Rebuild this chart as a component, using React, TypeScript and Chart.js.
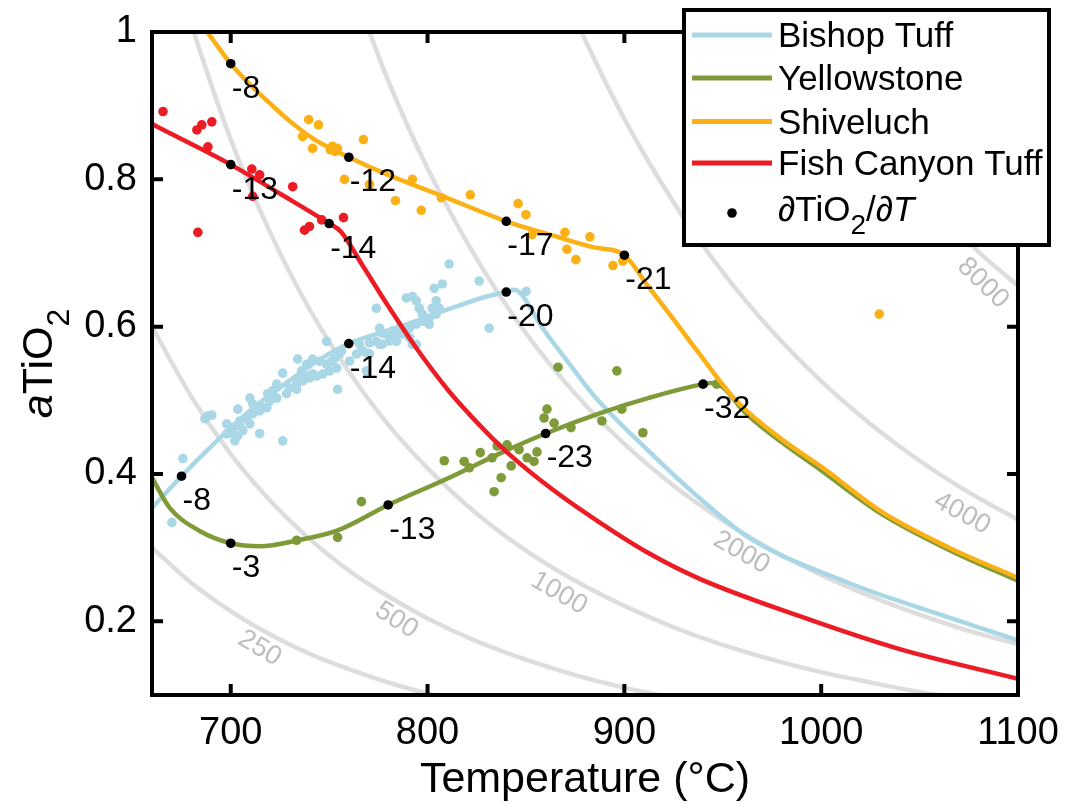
import React, { useEffect, useRef } from "react";
import { Chart, registerables } from "chart.js";

Chart.register(...registerables);

// ---------- axes ----------
const X_TICKS = [700, 800, 900, 1000, 1100];
const Y_TICKS = [0.2, 0.4, 0.6, 0.8, 1];

const SERIES_NAMES = ["Bishop Tuff", "Yellowstone", "Shiveluch", "Fish Canyon Tuff"];

// ---------- model curves ----------
const BISHOP_T = [660, 675, 688, 700, 713, 726, 745, 760, 786, 811, 830, 840, 844, 848, 853, 858, 870, 885, 912, 937, 963, 1014, 1064, 1100];
const BISHOP_A = [0.354, 0.397, 0.432, 0.463, 0.493, 0.519, 0.555, 0.577, 0.6, 0.624, 0.641, 0.647, 0.65, 0.643, 0.622, 0.6, 0.557, 0.505, 0.432, 0.37, 0.314, 0.252, 0.206, 0.174];

const YELLOW_T = [660, 669, 684, 700, 715, 734, 754, 780, 811, 836, 860, 887, 912, 940, 946, 952, 960, 980, 1000, 1030, 1065, 1100];
const YELLOW_A = [0.395, 0.354, 0.323, 0.306, 0.302, 0.31, 0.323, 0.358, 0.395, 0.427, 0.455, 0.482, 0.503, 0.522, 0.524, 0.513, 0.487, 0.443, 0.405, 0.347, 0.297, 0.255];

const SHIV_T = [684, 688, 700, 710, 720, 730, 742, 760, 780, 806, 840, 867, 884, 900, 912, 925, 937, 957, 980, 1000, 1030, 1065, 1100];
const SHIV_A = [1.014, 1.0, 0.957, 0.928, 0.903, 0.879, 0.855, 0.83, 0.806, 0.779, 0.743, 0.721, 0.708, 0.697, 0.655, 0.61, 0.567, 0.499, 0.447, 0.41, 0.35, 0.3, 0.259];

const FISH_T = [660, 680, 700, 726, 750, 756, 767, 780, 794, 811, 828, 841, 862, 887, 912, 938, 988, 1039, 1100];
const FISH_A = [0.875, 0.848, 0.82, 0.779, 0.74, 0.729, 0.683, 0.628, 0.572, 0.512, 0.462, 0.428, 0.382, 0.335, 0.293, 0.258, 0.208, 0.163, 0.122];

// ---------- measured points ----------
const BISHOP_PT_T = [670.1, 675.7, 686.9, 688.4, 690.4, 698.0, 700.5, 703.6, 702.1, 704.6, 706.1, 703.6, 709.7, 711.2, 713.7, 709.7, 714.7, 716.3, 718.8, 721.3, 723.4, 726.4, 728.4, 733.5, 734.0, 736.0, 738.6, 741.6, 726.4, 734.0, 738.6, 741.6, 745.1, 748.7, 751.2, 752.8, 755.3, 756.3, 754.3, 748.7, 765.4, 766.9, 770.5, 769.5, 774.0, 775.6, 777.1, 780.6, 784.2, 785.7, 787.2, 789.2, 792.3, 789.2, 792.3, 794.3, 795.8, 797.4, 799.4, 800.9, 802.4, 804.4, 803.4, 807.5, 811.0, 774.0, 775.6, 782.1, 790.8, 794.3, 826.2, 831.3, 850.1, 770.5, 768.9, 698.0, 701.1, 704.6, 708.2, 711.2, 714.7, 718.3, 719.8, 723.4, 729.9, 733.5, 736.5, 740.1, 743.6, 746.7, 750.2, 753.8, 760.4, 763.9, 766.9, 777.1, 780.6, 784.2, 787.2, 790.8, 794.3, 797.4, 800.9, 804.4, 806.0];
const BISHOP_PT_A = [0.334, 0.421, 0.475, 0.479, 0.48, 0.468, 0.456, 0.452, 0.445, 0.465, 0.459, 0.488, 0.503, 0.495, 0.488, 0.468, 0.455, 0.49, 0.509, 0.513, 0.522, 0.537, 0.509, 0.515, 0.53, 0.54, 0.533, 0.536, 0.445, 0.556, 0.549, 0.556, 0.553, 0.549, 0.553, 0.557, 0.563, 0.567, 0.515, 0.58, 0.576, 0.567, 0.578, 0.564, 0.58, 0.576, 0.591, 0.585, 0.58, 0.598, 0.59, 0.594, 0.576, 0.639, 0.641, 0.635, 0.625, 0.617, 0.607, 0.603, 0.625, 0.635, 0.652, 0.658, 0.685, 0.625, 0.598, 0.594, 0.585, 0.576, 0.662, 0.598, 0.648, 0.563, 0.54, 0.4545, 0.4627, 0.472, 0.476, 0.4816, 0.4857, 0.4897, 0.499, 0.503, 0.5168, 0.5222, 0.5262, 0.5303, 0.533, 0.5357, 0.5398, 0.5439, 0.5533, 0.5628, 0.5669, 0.5763, 0.5804, 0.5899, 0.5939, 0.598, 0.6034, 0.6074, 0.6115, 0.6169, 0.625];

const YELLOW_PT_T = [733.5, 754.3, 766.4, 808.5, 818.6, 821.2, 826.8, 832.8, 835.4, 840.4, 846.5, 842.5, 837.4, 833.8, 850.6, 854.1, 855.6, 860.7, 859.2, 864.3, 866.3, 872.9, 896.2, 888.6, 898.7, 909.4, 946.9];
const YELLOW_PT_A = [0.31, 0.314, 0.3625, 0.418, 0.417, 0.4085, 0.429, 0.422, 0.438, 0.4396, 0.433, 0.411, 0.395, 0.376, 0.422, 0.417, 0.43, 0.488, 0.476, 0.469, 0.545, 0.463, 0.54, 0.472, 0.488, 0.456, 0.522];

const SHIV_PT_T = [739.6, 744.6, 736.5, 741.6, 751.7, 754.2, 753.0, 750.6, 767.4, 757.8, 770.5, 792.3, 783.7, 796.8, 807.0, 821.7, 846.0, 850.0, 853.1, 869.8, 870.8, 875.4, 882.5, 894.2, 899.2, 1029.5];
const SHIV_PT_A = [0.881, 0.874, 0.858, 0.842, 0.845, 0.842, 0.838, 0.84, 0.854, 0.8, 0.793, 0.8, 0.771, 0.758, 0.775, 0.779, 0.767, 0.752, 0.725, 0.728, 0.705, 0.691, 0.722, 0.683, 0.689, 0.617];

const FISH_PT_T = [665.6, 682.8, 685.3, 690.4, 688.4, 683.3, 710.7, 714.7, 711.2, 731.5, 737.5, 740.0, 746.2, 757.3];
const FISH_PT_A = [0.892, 0.867, 0.874, 0.878, 0.844, 0.728, 0.814, 0.806, 0.777, 0.79, 0.731, 0.736, 0.745, 0.748];

// ---------- derivative markers ----------
const DERIV_T = [700, 760, 840, 900, 700, 750, 675, 760, 840, 700, 780, 860, 940];
const DERIV_A = [0.957, 0.83, 0.743, 0.697, 0.82, 0.74, 0.397, 0.577, 0.647, 0.306, 0.358, 0.455, 0.522];
const DERIV_LABELS = ["-8", "-12", "-17", "-21", "-13", "-14", "-8", "-14", "-20", "-3", "-13", "-23", "-32"];

// ---------- Ti contours ----------
const CONTOUR_LEVELS = ["250", "500", "1000", "2000", "4000", "8000"];
const C250_T = [660, 680, 700, 720, 740, 760, 780, 800, 825];
const C250_A = [0.3, 0.252, 0.214, 0.182, 0.156, 0.135, 0.117, 0.102, 0.086];
const C500_T = [660, 680, 700, 720, 740, 760, 780, 800, 825, 850, 875, 900, 925];
const C500_A = [0.6, 0.505, 0.427, 0.364, 0.312, 0.269, 0.234, 0.204, 0.173, 0.148, 0.127, 0.11, 0.096];
const C1000_T = [675, 680, 700, 720, 740, 760, 780, 800, 825, 850, 875, 900, 925, 950, 975, 1000, 1025, 1050, 1075];
const C1000_A = [1.053, 1.01, 0.854, 0.728, 0.624, 0.539, 0.467, 0.408, 0.346, 0.296, 0.255, 0.221, 0.192, 0.168, 0.148, 0.131, 0.117, 0.104, 0.094];
const C2000_T = [765, 780, 800, 825, 850, 875, 900, 925, 950, 975, 1000, 1025, 1050, 1075, 1100];
const C2000_A = [1.039, 0.934, 0.815, 0.692, 0.591, 0.509, 0.441, 0.384, 0.337, 0.297, 0.263, 0.234, 0.209, 0.187, 0.169];
const C4000_T = [870, 875, 900, 925, 950, 975, 1000, 1025, 1050, 1075, 1100];
const C4000_A = [1.048, 1.018, 0.882, 0.769, 0.674, 0.594, 0.526, 0.468, 0.418, 0.375, 0.338];
const C8000_T = [1000, 1010, 1025, 1050, 1075, 1100];
const C8000_A = [1.04, 0.987, 0.91, 0.8, 0.715, 0.655];
const CONTOUR_LABEL_T = [714.7, 784.2, 866.8, 959.5, 1071.6, 1082.2];
const CONTOUR_LABEL_A = [0.1636, 0.2015, 0.238, 0.2935, 0.3463, 0.6589];

// ---------- styles ----------
const FONT = "'Liberation Sans', Arial, Helvetica, sans-serif";
const C_BISHOP = "#a9d7e6";
const C_YELLOW = "#7f9a38";
const C_SHIV = "#fbb116";
const C_FISH = "#ec1c24";
const C_GRAY = "#dddddd";
const CONTOUR_LABEL_ANGLE = [31, 33, 30, 30, 29, 44];

const mk = (xs: number[], ys: number[]) => xs.map((v, i) => ({ x: v, y: ys[i] }));

const lineDs = (data: any[], color: string, order: number, width = 4.5) => ({
  data,
  showLine: true,
  borderColor: color,
  backgroundColor: color,
  borderWidth: width,
  pointRadius: 0,
  pointHoverRadius: 0,
  cubicInterpolationMode: "monotone",
  fill: false,
  clip: 0,
  order,
});

const dotDs = (data: any[], color: string, order: number, r = 4.8) => ({
  data,
  showLine: false,
  pointRadius: r,
  pointHoverRadius: r,
  pointBackgroundColor: color,
  pointBorderWidth: 0,
  borderColor: color,
  backgroundColor: color,
  order,
});

type Part = [string, "n" | "i" | "s"];

function partFont(p: Part, size: number, subSize: number) {
  if (p[1] === "i") return `italic ${size}px ${FONT}`;
  if (p[1] === "s") return `${subSize}px ${FONT}`;
  return `${size}px ${FONT}`;
}

function richWidth(ctx: CanvasRenderingContext2D, parts: Part[], size: number, subSize: number) {
  let w = 0;
  for (const p of parts) {
    ctx.font = partFont(p, size, subSize);
    w += ctx.measureText(p[0]).width;
  }
  return w;
}

function drawRich(ctx: CanvasRenderingContext2D, parts: Part[], x: number, y: number, size: number, subSize: number, subShift: number) {
  let cx = x;
  ctx.textAlign = "left";
  ctx.textBaseline = "alphabetic";
  for (const p of parts) {
    ctx.font = partFont(p, size, subSize);
    ctx.fillText(p[0], cx, p[1] === "s" ? y + subShift : y);
    cx += ctx.measureText(p[0]).width;
  }
}

const overlay = {
  id: "overlay",
  beforeDatasetsDraw(chart: any) {
    const { ctx, scales } = chart;
    const x = scales.x;
    const y = scales.y;
    ctx.save();
    ctx.fillStyle = "#bdbdbd";
    ctx.font = `27px ${FONT}`;
    ctx.textAlign = "center";
    ctx.textBaseline = "middle";
    CONTOUR_LEVELS.forEach((lab, i) => {
      const px = x.getPixelForValue(CONTOUR_LABEL_T[i]);
      const py = y.getPixelForValue(CONTOUR_LABEL_A[i]);
      ctx.save();
      ctx.translate(px, py);
      ctx.rotate((CONTOUR_LABEL_ANGLE[i] * Math.PI) / 180);
      ctx.fillText(lab, 0, 0);
      ctx.restore();
    });
    ctx.restore();
  },
  afterDatasetsDraw(chart: any) {
    const { ctx, scales, chartArea } = chart;
    const x = scales.x;
    const y = scales.y;
    ctx.save();
    ctx.fillStyle = "#000";
    ctx.font = `32px ${FONT}`;
    ctx.textAlign = "left";
    ctx.textBaseline = "alphabetic";
    DERIV_LABELS.forEach((lab, i) => {
      const px = x.getPixelForValue(DERIV_T[i]);
      const py = y.getPixelForValue(DERIV_A[i]);
      ctx.fillText(lab, px + 1, py + 34);
    });
    const { left, right, top, bottom } = chartArea;
    ctx.strokeStyle = "#000";
    ctx.lineWidth = 4;
    ctx.lineCap = "butt";
    ctx.beginPath();
    X_TICKS.forEach((v) => {
      const px = x.getPixelForValue(v);
      if (px < right - 3) {
        ctx.moveTo(px, bottom);
        ctx.lineTo(px, bottom - 11);
        ctx.moveTo(px, top);
        ctx.lineTo(px, top + 11);
      }
    });
    Y_TICKS.forEach((v) => {
      const py = y.getPixelForValue(v);
      if (py > top + 3) {
        ctx.moveTo(left, py);
        ctx.lineTo(left + 11, py);
        ctx.moveTo(right, py);
        ctx.lineTo(right - 11, py);
      }
    });
    ctx.stroke();
    ctx.lineJoin = "miter";
    ctx.strokeRect(left, top, right - left, bottom - top);
    ctx.restore();
  },
  afterDraw(chart: any) {
    const { ctx, chartArea } = chart;
    ctx.save();
    ctx.fillStyle = "#000";
    const yParts: Part[] = [["a", "i"], ["TiO", "n"], ["2", "s"]];
    const w = richWidth(ctx, yParts, 43, 32);
    ctx.translate(52, (chartArea.top + chartArea.bottom) / 2);
    ctx.rotate(-Math.PI / 2);
    drawRich(ctx, yParts, -w / 2, 0, 43, 32, 17);
    ctx.restore();

    ctx.save();
    const L = 684, T = 10, R = 1049, B = 245;
    ctx.fillStyle = "#fff";
    ctx.fillRect(L, T, R - L, B - T);
    ctx.strokeStyle = "#000";
    ctx.lineWidth = 4;
    ctx.strokeRect(L, T, R - L, B - T);
    const rows = [35, 78, 121.5, 163];
    const cols = [C_BISHOP, C_YELLOW, C_SHIV, C_FISH];
    ctx.lineWidth = 5;
    SERIES_NAMES.forEach((name, i) => {
      ctx.strokeStyle = cols[i];
      ctx.beginPath();
      ctx.moveTo(692, rows[i]);
      ctx.lineTo(772, rows[i]);
      ctx.stroke();
      ctx.fillStyle = "#000";
      ctx.font = `35px ${FONT}`;
      ctx.textAlign = "left";
      ctx.textBaseline = "alphabetic";
      ctx.fillText(name, 778, rows[i] + 12);
    });
    ctx.fillStyle = "#000";
    ctx.beginPath();
    ctx.arc(732, 213, 4.8, 0, Math.PI * 2);
    ctx.fill();
    const lParts: Part[] = [["∂", "i"], ["TiO", "n"], ["2", "s"], ["/", "n"], ["∂", "i"], ["T", "i"]];
    drawRich(ctx, lParts, 778, 221, 35, 28, 13);
    ctx.restore();
  },
};

export default function App() {
  const ref = useRef<HTMLCanvasElement>(null);
  useEffect(() => {
    const canvas = ref.current;
    if (!canvas) return;
    const datasets: any[] = [
      lineDs(mk(C250_T, C250_A), C_GRAY, 100),
      lineDs(mk(C500_T, C500_A), C_GRAY, 100),
      lineDs(mk(C1000_T, C1000_A), C_GRAY, 100),
      lineDs(mk(C2000_T, C2000_A), C_GRAY, 100),
      lineDs(mk(C4000_T, C4000_A), C_GRAY, 100),
      lineDs(mk(C8000_T, C8000_A), C_GRAY, 100),
      dotDs(mk(BISHOP_PT_T, BISHOP_PT_A), C_BISHOP, 60),
      dotDs(mk(YELLOW_PT_T, YELLOW_PT_A), C_YELLOW, 60),
      dotDs(mk(SHIV_PT_T, SHIV_PT_A), C_SHIV, 60),
      dotDs(mk(FISH_PT_T, FISH_PT_A), C_FISH, 60),
      lineDs(mk(BISHOP_T, BISHOP_A), C_BISHOP, 50),
      lineDs(mk(YELLOW_T, YELLOW_A), C_YELLOW, 49),
      lineDs(mk(SHIV_T, SHIV_A), C_SHIV, 48),
      lineDs(mk(FISH_T, FISH_A), C_FISH, 47),
      dotDs(mk(DERIV_T, DERIV_A), "#000", 0, 4.8),
    ];
    const chart = new Chart(canvas, {
      type: "scatter",
      data: { datasets },
      options: {
        responsive: false,
        animation: false,
        devicePixelRatio: 1,
        events: [],
        layout: { padding: { left: 0, right: 50, top: 32, bottom: 0 } },
        plugins: { legend: { display: false }, tooltip: { enabled: false } },
        scales: {
          x: {
            type: "linear",
            min: 660,
            max: 1100,
            afterBuildTicks: (s: any) => {
              s.ticks = X_TICKS.map((v) => ({ value: v }));
            },
            afterFit: (s: any) => {
              s.height = 117;
              s.paddingLeft = 0;
              s.paddingRight = 0;
            },
            grid: { display: false, drawTicks: false },
            border: { display: false },
            ticks: {
              color: "#000",
              font: { family: FONT, size: 38 },
              padding: 16,
              maxRotation: 0,
              autoSkip: false,
              callback: (v: any) => String(v),
            },
            title: {
              display: true,
              text: "Temperature (°C)",
              color: "#000",
              font: { family: FONT, size: 43 },
              padding: { top: 0, bottom: 6 },
            },
          },
          y: {
            type: "linear",
            min: 0.1,
            max: 1,
            afterBuildTicks: (s: any) => {
              s.ticks = Y_TICKS.map((v) => ({ value: v }));
            },
            afterFit: (s: any) => {
              s.width = 152;
              s.paddingTop = 0;
              s.paddingBottom = 0;
            },
            grid: { display: false, drawTicks: false },
            border: { display: false },
            ticks: {
              color: "#000",
              font: { family: FONT, size: 38 },
              padding: 15,
              autoSkip: false,
              callback: (v: any) => String(v),
            },
          },
        },
      } as any,
      plugins: [overlay],
    } as any);
    return () => chart.destroy();
  }, []);
  return (
    <div style={{ position: "fixed", left: 0, top: 0, width: 1068, height: 812, background: "#fff" }}>
      <canvas ref={ref} width={1068} height={812} style={{ display: "block", width: 1068, height: 812 }} />
    </div>
  );
}
